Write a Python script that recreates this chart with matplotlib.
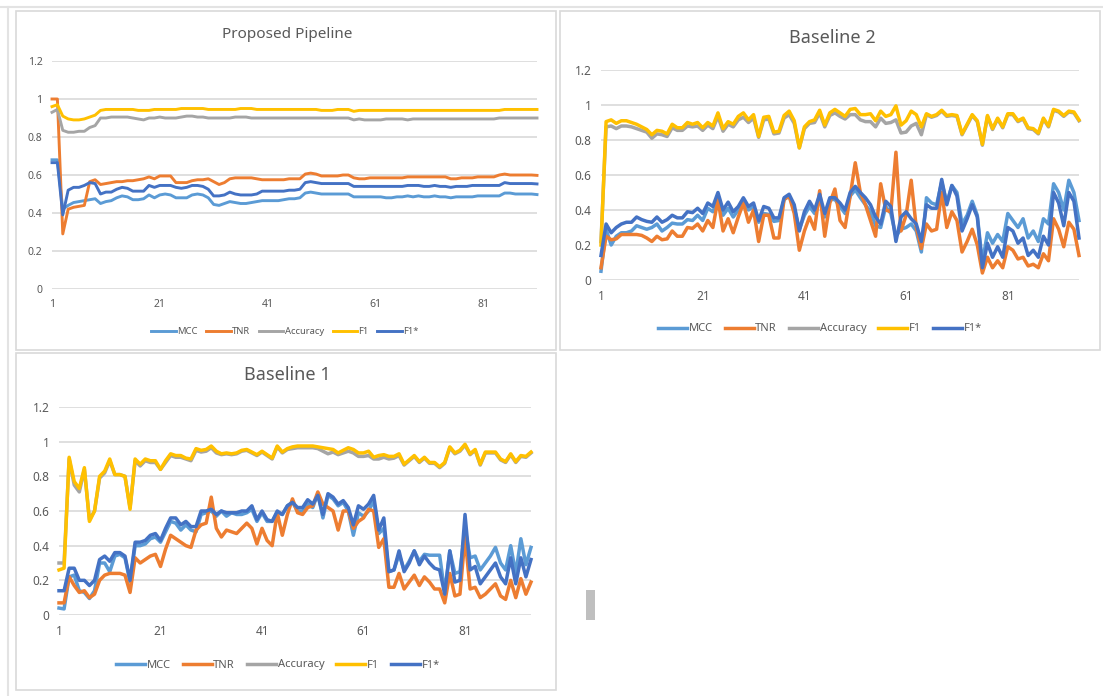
import numpy as np
import matplotlib
matplotlib.use('Agg')
from matplotlib import pyplot as plt
from matplotlib.patches import Rectangle

plt.rcParams['font.family'] = ['Noto Sans', 'DejaVu Sans']

# ---------------- data ----------------
series_names = ['MCC', 'TNR', 'Accuracy', 'F1', 'F1*']
series_colors = ['#5B9BD5', '#ED7D31', '#A5A5A5', '#FFC000', '#4472C4']
x_ticks = [1, 21, 41, 61, 81]
y_ticks = [0, 0.2, 0.4, 0.6, 0.8, 1.0, 1.2]
y_tick_labels = ['0', '0.2', '0.4', '0.6', '0.8', '1', '1.2']

# Proposed Pipeline (91 points)
mcc_p = [0.68, 0.68, 0.42, 0.44, 0.455, 0.46, 0.465, 0.47, 0.475, 0.45,
         0.46, 0.465, 0.48, 0.49, 0.485, 0.47, 0.47, 0.475, 0.495, 0.48,
         0.495, 0.5, 0.495, 0.48, 0.48, 0.48, 0.495, 0.5, 0.495, 0.48,
         0.445, 0.44, 0.45, 0.46, 0.455, 0.45, 0.45, 0.455, 0.46, 0.465,
         0.465, 0.465, 0.465, 0.47, 0.475, 0.475, 0.48, 0.505, 0.51, 0.505,
         0.5, 0.5, 0.5, 0.5, 0.5, 0.5, 0.485, 0.485, 0.485, 0.485,
         0.485, 0.485, 0.48, 0.48, 0.485, 0.485, 0.49, 0.485, 0.49, 0.485,
         0.485, 0.49, 0.485, 0.485, 0.48, 0.485, 0.485, 0.485, 0.485, 0.49,
         0.49, 0.49, 0.49, 0.49, 0.505, 0.505, 0.5, 0.5, 0.5, 0.5, 0.497]
tnr_p = [1.0, 1.0, 0.29, 0.42, 0.43, 0.435, 0.44, 0.565, 0.575, 0.55,
         0.555, 0.56, 0.565, 0.565, 0.57, 0.57, 0.575, 0.58, 0.59, 0.58,
         0.595, 0.595, 0.595, 0.56, 0.56, 0.56, 0.57, 0.575, 0.575, 0.58,
         0.565, 0.55, 0.56, 0.58, 0.585, 0.585, 0.585, 0.585, 0.58, 0.575,
         0.575, 0.575, 0.575, 0.575, 0.58, 0.58, 0.58, 0.605, 0.61, 0.605,
         0.595, 0.595, 0.595, 0.595, 0.6, 0.6, 0.585, 0.58, 0.58, 0.585,
         0.585, 0.585, 0.585, 0.585, 0.585, 0.585, 0.59, 0.59, 0.59, 0.59,
         0.59, 0.59, 0.59, 0.59, 0.58, 0.58, 0.585, 0.585, 0.585, 0.59,
         0.59, 0.59, 0.59, 0.6, 0.605, 0.6, 0.6, 0.6, 0.6, 0.6, 0.598]
acc_p = [0.93, 0.945, 0.835, 0.825, 0.825, 0.83, 0.83, 0.85, 0.86, 0.9,
         0.9, 0.905, 0.905, 0.905, 0.905, 0.9, 0.895, 0.89, 0.9, 0.9,
         0.905, 0.9, 0.9, 0.9, 0.905, 0.91, 0.91, 0.905, 0.905, 0.9,
         0.9, 0.9, 0.9, 0.9, 0.905, 0.905, 0.905, 0.9, 0.9, 0.9,
         0.9, 0.9, 0.9, 0.9, 0.9, 0.9, 0.9, 0.9, 0.9, 0.9,
         0.9, 0.9, 0.9, 0.9, 0.9, 0.9, 0.89, 0.895, 0.89, 0.89,
         0.89, 0.89, 0.895, 0.895, 0.895, 0.895, 0.89, 0.895, 0.895, 0.895,
         0.895, 0.895, 0.895, 0.895, 0.895, 0.895, 0.895, 0.895, 0.895, 0.895,
         0.895, 0.895, 0.895, 0.9, 0.9, 0.9, 0.9, 0.9, 0.9, 0.9, 0.9]
f1_p = [0.96, 0.97, 0.91, 0.895, 0.89, 0.89, 0.895, 0.905, 0.915, 0.94,
        0.945, 0.945, 0.945, 0.945, 0.945, 0.945, 0.94, 0.94, 0.94, 0.945,
        0.945, 0.945, 0.945, 0.945, 0.95, 0.95, 0.95, 0.95, 0.95, 0.945,
        0.945, 0.945, 0.945, 0.945, 0.945, 0.95, 0.95, 0.95, 0.945, 0.945,
        0.945, 0.945, 0.945, 0.945, 0.945, 0.945, 0.945, 0.945, 0.945, 0.945,
        0.94, 0.94, 0.94, 0.945, 0.945, 0.945, 0.935, 0.94, 0.94, 0.94,
        0.94, 0.94, 0.94, 0.94, 0.94, 0.94, 0.94, 0.94, 0.94, 0.94,
        0.94, 0.94, 0.94, 0.94, 0.94, 0.94, 0.94, 0.94, 0.94, 0.94,
        0.94, 0.94, 0.94, 0.94, 0.945, 0.945, 0.945, 0.945, 0.945, 0.945, 0.945]
f1s_p = [0.665, 0.665, 0.39, 0.52, 0.535, 0.535, 0.545, 0.56, 0.555, 0.5,
         0.51, 0.51, 0.525, 0.535, 0.53, 0.515, 0.515, 0.515, 0.545, 0.535,
         0.545, 0.545, 0.545, 0.535, 0.53, 0.535, 0.545, 0.545, 0.54, 0.525,
         0.49, 0.49, 0.495, 0.51, 0.5, 0.495, 0.495, 0.495, 0.5, 0.515,
         0.515, 0.515, 0.515, 0.515, 0.52, 0.52, 0.525, 0.56, 0.565, 0.56,
         0.555, 0.555, 0.555, 0.555, 0.555, 0.555, 0.54, 0.54, 0.54, 0.54,
         0.54, 0.54, 0.54, 0.54, 0.54, 0.54, 0.545, 0.545, 0.545, 0.54,
         0.54, 0.545, 0.54, 0.54, 0.535, 0.54, 0.54, 0.54, 0.545, 0.545,
         0.545, 0.545, 0.545, 0.545, 0.56, 0.555, 0.555, 0.555, 0.555, 0.555, 0.553]

# Baseline 2 (95 points)
mcc_b2 = [0.05, 0.29, 0.2, 0.25, 0.27, 0.27, 0.28, 0.31, 0.3, 0.29,
          0.3, 0.32, 0.28, 0.3, 0.325, 0.32, 0.32, 0.345, 0.34, 0.37,
          0.34, 0.41, 0.39, 0.46, 0.37, 0.41, 0.36, 0.4, 0.45, 0.4,
          0.42, 0.33, 0.38, 0.375, 0.335, 0.34, 0.46, 0.48, 0.41, 0.29,
          0.37, 0.42, 0.38, 0.47, 0.36, 0.46, 0.46, 0.42, 0.38, 0.48,
          0.515, 0.47, 0.43, 0.39, 0.31, 0.3, 0.42, 0.38, 0.25, 0.29,
          0.3, 0.32, 0.28, 0.16, 0.47, 0.44, 0.43, 0.56, 0.44, 0.54,
          0.5, 0.32, 0.37, 0.45, 0.37, 0.1, 0.27, 0.21, 0.26, 0.22,
          0.38, 0.34, 0.3, 0.35, 0.24, 0.28, 0.22, 0.35, 0.32, 0.55,
          0.5, 0.4, 0.57, 0.5, 0.34]
tnr_b2 = [0.07, 0.25, 0.23, 0.235, 0.26, 0.26, 0.26, 0.26, 0.255, 0.24,
          0.22, 0.25, 0.23, 0.235, 0.28, 0.25, 0.25, 0.3, 0.295, 0.32,
          0.28, 0.34, 0.3, 0.46, 0.28, 0.35, 0.27, 0.36, 0.44, 0.33,
          0.4, 0.22, 0.37, 0.37, 0.24, 0.24, 0.46, 0.48, 0.38, 0.17,
          0.28, 0.36, 0.29, 0.51, 0.25, 0.44, 0.52, 0.34, 0.3, 0.48,
          0.67, 0.5, 0.43, 0.34, 0.25, 0.55, 0.4, 0.39, 0.73, 0.28,
          0.37, 0.57, 0.3, 0.18, 0.32, 0.28, 0.29, 0.5, 0.3, 0.39,
          0.34, 0.16, 0.22, 0.29, 0.2, 0.04, 0.13, 0.07, 0.11, 0.07,
          0.19, 0.17, 0.12, 0.13, 0.08, 0.09, 0.07, 0.15, 0.11, 0.35,
          0.29, 0.19, 0.33, 0.29, 0.14]
acc_b2 = [0.22, 0.875, 0.88, 0.865, 0.88, 0.88, 0.875, 0.865, 0.855, 0.845,
          0.81, 0.835, 0.83, 0.82, 0.87, 0.855, 0.855, 0.88, 0.875, 0.88,
          0.855, 0.885, 0.865, 0.935, 0.85, 0.89, 0.875, 0.915, 0.93, 0.9,
          0.925, 0.815, 0.915, 0.92, 0.835, 0.84, 0.925, 0.945, 0.895, 0.755,
          0.865, 0.895, 0.9, 0.955, 0.875, 0.94, 0.955, 0.935, 0.92, 0.945,
          0.945, 0.915, 0.905, 0.905, 0.875, 0.925, 0.895, 0.9, 0.915, 0.84,
          0.845, 0.88, 0.895, 0.83, 0.945, 0.93, 0.94, 0.965, 0.935, 0.94,
          0.935, 0.83, 0.885, 0.94, 0.905, 0.77, 0.935, 0.86, 0.92, 0.87,
          0.945, 0.945, 0.905, 0.92, 0.865, 0.86, 0.835, 0.92, 0.875, 0.97,
          0.96, 0.935, 0.96, 0.955, 0.91]
f1_b2 = [0.2, 0.905, 0.915, 0.895, 0.91, 0.91, 0.9, 0.89, 0.875, 0.86,
         0.83, 0.855, 0.85, 0.835, 0.89, 0.87, 0.87, 0.9, 0.89, 0.9,
         0.87, 0.9, 0.88, 0.955, 0.865, 0.905, 0.89, 0.935, 0.955, 0.915,
         0.945, 0.82, 0.93, 0.935, 0.845, 0.85, 0.94, 0.965, 0.91, 0.755,
         0.875, 0.905, 0.915, 0.97, 0.885, 0.955, 0.975, 0.955, 0.935, 0.975,
         0.98, 0.945, 0.945, 0.95, 0.91, 0.965, 0.935, 0.945, 0.995, 0.885,
         0.91, 0.965, 0.945, 0.875, 0.95, 0.935, 0.945, 0.97, 0.94, 0.945,
         0.94, 0.835, 0.89, 0.945, 0.91, 0.775, 0.94, 0.865, 0.925, 0.875,
         0.95, 0.95, 0.91, 0.925, 0.87, 0.865, 0.84, 0.925, 0.88, 0.975,
         0.965, 0.94, 0.965, 0.96, 0.915]
f1s_b2 = [0.14, 0.32, 0.27, 0.3, 0.32, 0.33, 0.33, 0.36, 0.345, 0.335,
          0.33, 0.36, 0.33, 0.345, 0.37, 0.355, 0.355, 0.39, 0.385, 0.41,
          0.38, 0.44, 0.42, 0.5, 0.4, 0.445, 0.39, 0.42, 0.47, 0.42,
          0.44, 0.34, 0.42, 0.41, 0.355, 0.355, 0.47, 0.49, 0.43, 0.28,
          0.39, 0.45, 0.4, 0.49, 0.38, 0.47, 0.47, 0.44, 0.4, 0.5,
          0.535, 0.5, 0.47, 0.43, 0.36, 0.32, 0.45, 0.42, 0.22, 0.36,
          0.39, 0.35, 0.32, 0.22, 0.43, 0.41, 0.41, 0.575, 0.43, 0.54,
          0.48, 0.28, 0.35, 0.43, 0.36, 0.07, 0.21, 0.13, 0.19, 0.13,
          0.3, 0.28, 0.21, 0.24, 0.14, 0.17, 0.13, 0.25, 0.2, 0.5,
          0.44, 0.31, 0.5, 0.45, 0.24]

# Baseline 1 (94 points)
mcc_b1 = [0.04, 0.035, 0.22, 0.23, 0.14, 0.13, 0.095, 0.14, 0.3, 0.3,
          0.25, 0.34, 0.35, 0.33, 0.19, 0.4, 0.4, 0.41, 0.44, 0.45,
          0.42, 0.48, 0.54, 0.53, 0.49, 0.52, 0.49, 0.48, 0.58, 0.59,
          0.6, 0.57, 0.6, 0.57, 0.59, 0.58, 0.58, 0.59, 0.61, 0.54,
          0.59, 0.54, 0.54, 0.59, 0.58, 0.63, 0.65, 0.6, 0.6, 0.64,
          0.62, 0.7, 0.56, 0.69, 0.67, 0.63, 0.65, 0.6, 0.46, 0.59,
          0.57, 0.6, 0.66, 0.47, 0.5, 0.25, 0.26, 0.35, 0.26, 0.31,
          0.37, 0.31, 0.35, 0.345, 0.345, 0.345, 0.13, 0.37, 0.24, 0.25,
          0.5, 0.33, 0.34, 0.26, 0.3, 0.34, 0.39, 0.3, 0.26, 0.4,
          0.24, 0.44, 0.29, 0.39]
tnr_b1 = [0.07, 0.07, 0.22, 0.17, 0.13, 0.14, 0.1, 0.12, 0.2, 0.23,
          0.24, 0.24, 0.24, 0.23, 0.13, 0.33, 0.3, 0.32, 0.34, 0.35,
          0.28, 0.38, 0.46, 0.44, 0.42, 0.4, 0.39, 0.49, 0.52, 0.53,
          0.68, 0.5, 0.45, 0.49, 0.48, 0.47, 0.5, 0.53, 0.5, 0.41,
          0.5, 0.43, 0.4, 0.59, 0.46, 0.58, 0.67, 0.59, 0.58, 0.62,
          0.63, 0.71, 0.64, 0.62, 0.6, 0.49, 0.6, 0.6, 0.5, 0.54,
          0.56, 0.61, 0.6, 0.39, 0.44, 0.16, 0.16, 0.24, 0.15, 0.19,
          0.23, 0.17, 0.22, 0.19, 0.15, 0.15, 0.07, 0.24, 0.11, 0.12,
          0.45, 0.15, 0.16, 0.1, 0.12, 0.15, 0.18, 0.11, 0.09, 0.2,
          0.1, 0.21, 0.12, 0.19]
acc_b1 = [0.3, 0.3, 0.9, 0.75, 0.71, 0.84, 0.55, 0.6, 0.79, 0.82,
          0.89, 0.81, 0.81, 0.8, 0.62, 0.89, 0.86, 0.89, 0.88, 0.88,
          0.84, 0.88, 0.92, 0.91, 0.91, 0.9, 0.89, 0.95, 0.94, 0.945,
          0.965, 0.935, 0.925, 0.93, 0.925, 0.93, 0.945, 0.95, 0.935, 0.92,
          0.94, 0.92, 0.9, 0.97, 0.935, 0.955, 0.96, 0.965, 0.965, 0.965,
          0.965, 0.96, 0.945, 0.93, 0.94, 0.925, 0.935, 0.945, 0.935, 0.915,
          0.915, 0.92, 0.9, 0.9, 0.91, 0.9, 0.905, 0.92, 0.865, 0.89,
          0.915, 0.88, 0.905, 0.875, 0.875, 0.85, 0.875, 0.965, 0.93, 0.945,
          0.98, 0.925, 0.95, 0.865, 0.935, 0.935, 0.935, 0.895, 0.88, 0.925,
          0.88, 0.915, 0.91, 0.935]
f1_b1 = [0.26, 0.27, 0.91, 0.77, 0.73, 0.85, 0.54, 0.6, 0.8, 0.83,
         0.9, 0.81, 0.81, 0.8, 0.61, 0.9, 0.87, 0.9, 0.89, 0.89,
         0.84, 0.89, 0.93, 0.92, 0.92, 0.905, 0.9, 0.96, 0.95, 0.955,
         0.975, 0.945, 0.93, 0.935, 0.93, 0.935, 0.95, 0.955, 0.94, 0.925,
         0.945, 0.925, 0.905, 0.975, 0.94, 0.96, 0.97, 0.975, 0.975, 0.975,
         0.975, 0.97, 0.965, 0.96, 0.955, 0.935, 0.95, 0.965, 0.955, 0.935,
         0.935, 0.945, 0.91, 0.92, 0.925, 0.915, 0.915, 0.93, 0.87, 0.895,
         0.92, 0.885, 0.91, 0.88, 0.88, 0.855, 0.88, 0.97, 0.935, 0.95,
         0.985, 0.93, 0.955, 0.87, 0.94, 0.94, 0.94, 0.9, 0.885, 0.93,
         0.885, 0.92, 0.915, 0.94]
f1s_b1 = [0.14, 0.14, 0.27, 0.27, 0.2, 0.2, 0.17, 0.2, 0.32, 0.34,
          0.31, 0.36, 0.36, 0.34, 0.2, 0.42, 0.42, 0.43, 0.46, 0.47,
          0.43, 0.5, 0.56, 0.56, 0.52, 0.54, 0.51, 0.51, 0.6, 0.6,
          0.61, 0.58, 0.6, 0.59, 0.59, 0.59, 0.6, 0.6, 0.63, 0.55,
          0.6, 0.55, 0.54, 0.6, 0.58, 0.63, 0.65, 0.62, 0.62, 0.665,
          0.64, 0.69, 0.58, 0.7, 0.68, 0.64, 0.66, 0.62, 0.52, 0.63,
          0.61, 0.64, 0.69, 0.49, 0.56, 0.25, 0.26, 0.37, 0.25, 0.3,
          0.37, 0.29, 0.34, 0.3, 0.27, 0.26, 0.12, 0.37, 0.19, 0.2,
          0.58, 0.26, 0.28, 0.18, 0.22, 0.26, 0.3, 0.22, 0.18, 0.33,
          0.18, 0.33, 0.22, 0.32]

# ---------------- layout (pixels) ----------------
W, H = 1103, 696
GRID = '#D9D9D9'
TEXT = '#595959'


def px_rect(left, top, right, bottom):
    return [left / W, 1 - bottom / H, (right - left) / W, (bottom - top) / H]


def draw_panel(fig, rect, data, title, title_xy, title_size,
               tick_size, legend_xy, legend_size, lw, colspace):
    ax = fig.add_axes(px_rect(*rect))
    n = len(data[0])
    x = np.arange(1, n + 1)
    handles = []
    for values, name, color in zip(data, series_names, series_colors):
        line, = ax.plot(x, values, color=color, lw=lw, label=name,
                        solid_joinstyle='round', clip_on=False)
        handles.append(line)
    ax.set_xlim(1, n)
    ax.set_ylim(0, 1.2)
    ax.set_xticks(x_ticks)
    ax.set_yticks(y_ticks)
    ax.set_yticklabels(y_tick_labels)
    ax.tick_params(length=0, labelsize=tick_size, labelcolor=TEXT, pad=7)
    ax.yaxis.grid(True, color=GRID, lw=1.2)
    ax.set_axisbelow(True)
    for s in ax.spines.values():
        s.set_visible(False)
    ax.patch.set_alpha(0)
    fig.text(title_xy[0] / W, 1 - title_xy[1] / H, title, ha='center',
             va='center', fontsize=title_size, color=TEXT)
    fig.legend(handles=handles, loc='center', ncol=5, frameon=False,
               bbox_to_anchor=(legend_xy[0] / W, 1 - legend_xy[1] / H),
               fontsize=legend_size, labelcolor=TEXT, handlelength=2.6,
               handletextpad=0.15, columnspacing=colspace)
    return ax


fig = plt.figure(figsize=(W / 100, H / 100), dpi=100)

# background with the panel frames
bg = fig.add_axes([0, 0, 1, 1])
bg.set_xlim(0, W)
bg.set_ylim(H, 0)
bg.axis('off')
bg.plot([0, W], [7, 7], color='#E3E3E3', lw=1.5)
bg.plot([8, 8], [7, H], color='#E3E3E3', lw=1.5)
for (l, t, r, b) in [(16, 11, 556, 350), (560, 11, 1100, 350), (16, 353, 556, 690)]:
    bg.add_patch(Rectangle((l, t), r - l, b - t, fill=False, ec='#D9D9D9', lw=1.2))
bg.add_patch(Rectangle((586, 590), 9, 30, color='#BFBFBF', lw=0))

draw_panel(fig, (52, 61, 537, 289),
           [mcc_p, tnr_p, acc_p, f1_p, f1s_p],
           'Proposed Pipeline', (287, 34), 11,
           7.5, (285, 332), 6.8, 2.1, 0.9)
draw_panel(fig, (601, 70, 1079, 280),
           [mcc_b2, tnr_b2, acc_b2, f1_b2, f1s_b2],
           'Baseline 2', (832, 38), 13,
           8.5, (820, 329), 8, 2.5, 1.1)
draw_panel(fig, (59, 407, 531, 615),
           [mcc_b1, tnr_b1, acc_b1, f1_b1, f1s_b1],
           'Baseline 1', (287, 375), 13,
           8.5, (278, 665), 8, 2.5, 1.1)

plt.savefig('out.png', dpi=100)
